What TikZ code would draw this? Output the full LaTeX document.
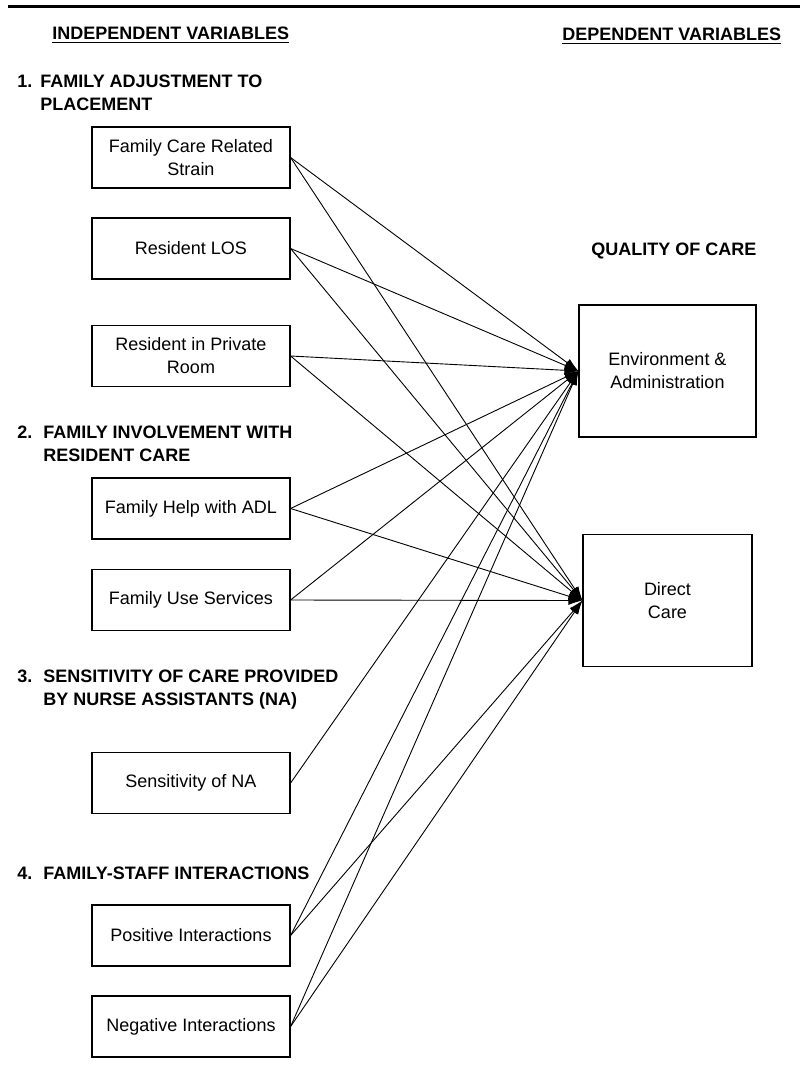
\documentclass[tikz,border=0pt]{standalone}
\usepackage{fontspec}
\setmainfont{Liberation Sans}
\usetikzlibrary{arrows.meta}

\newcommand*{\boxx}{191}
\newcommand*{\numx}{17}

\begin{document}
\begin{tikzpicture}
[
	x=0.5pt, y=-0.5pt,
	varbox/.style={draw,line width=0.6pt,align=center,inner sep=0pt,minimum width=99pt,minimum height=30.5pt,font=\fontsize{9pt}{11.5pt}\selectfont},
	qualbox/.style={draw,line width=0.6pt,align=center,inner sep=0pt,minimum height=66pt,font=\fontsize{9pt}{11.5pt}\selectfont},
	heading/.style={inner sep=0pt,align=left,font=\fontsize{9pt}{11.5pt}\selectfont\bfseries},
	link/.style={line width=0.45pt,-{Latex[length=7pt,width=4.5pt]}}
]

	\useasboundingbox (0,0) rectangle (800,1067);

	% top rule and column titles
	\draw[line width=1.6pt] (8,6.5) -- (800,6.5);
	\node[heading,anchor=base west] (indep) at (52,39) {\underline{INDEPENDENT VARIABLES}};
	\node[heading,anchor=base west] (dep) at (562,40) {\underline{DEPENDENT VARIABLES}};

	% independent variables
	\node[heading,anchor=north west] (num1) at (\numx,75) {1.};
	\node[heading,anchor=north west] (group1) at (40,75) {FAMILY ADJUSTMENT TO\\PLACEMENT};
	\node[varbox] (strain) at (\boxx,157.5) {Family Care Related\\Strain};
	\node[varbox] (los) at (\boxx,248.5) {Resident LOS};
	\node[varbox] (room) at (\boxx,356) {Resident in Private\\Room};

	\node[heading,anchor=north west] (num2) at (\numx,426) {2.};
	\node[heading,anchor=north west] (group2) at (43,426) {FAMILY INVOLVEMENT WITH\\RESIDENT CARE};
	\node[varbox] (adl) at (\boxx,508.5) {Family Help with ADL};
	\node[varbox] (services) at (\boxx,600) {Family Use Services};

	\node[heading,anchor=north west] (num3) at (\numx,670) {3.};
	\node[heading,anchor=north west] (group3) at (43,670) {SENSITIVITY OF CARE PROVIDED\\BY NURSE ASSISTANTS (NA)};
	\node[varbox] (sensitivity) at (\boxx,783) {Sensitivity of NA};

	\node[heading,anchor=north west] (num4) at (\numx,867) {4.};
	\node[heading,anchor=north west] (group4) at (43,867) {FAMILY-STAFF INTERACTIONS};
	\node[varbox] (positive) at (\boxx,935.5) {Positive Interactions};
	\node[varbox] (negative) at (\boxx,1026.5) {Negative Interactions};

	% dependent variables
	\node[heading,anchor=base west] (quality) at (591,255) {QUALITY OF CARE};
	\node[qualbox,minimum width=88.5pt] (env) at (667.5,371) {Environment \&\\Administration};
	\node[qualbox,minimum width=84.5pt] (direct) at (667.5,600.5) {Direct\\Care};

	% paths
	\foreach \src/\dst in {strain/env,strain/direct,los/env,los/direct,room/env,room/direct,
		adl/env,adl/direct,services/env,services/direct,sensitivity/env,
		positive/env,positive/direct,negative/env,negative/direct}
		\draw[link] (\src.east) -- (\dst.west);

\end{tikzpicture}
\end{document}
